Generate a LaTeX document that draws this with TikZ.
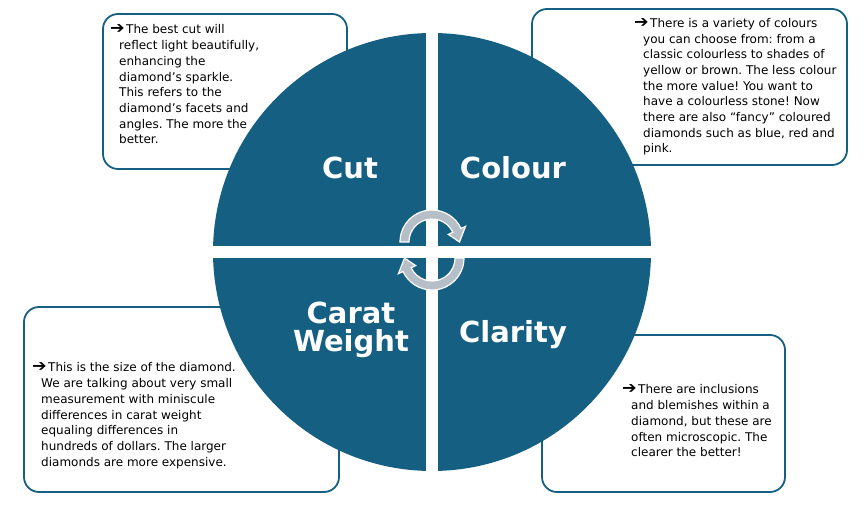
\documentclass[tikz,border=0pt]{standalone}
\usepackage{fontspec}
\setmainfont{DejaVu Sans}
\usepackage{tikz}
\usetikzlibrary{calc,positioning}
\frenchspacing

\definecolor{Gem}{HTML}{156082}
\definecolor{TurnGrey}{RGB}{182,190,200}
\newcommand\bulletarrow{\hspace*{-9pt}\makebox[16pt][l]{\scalebox{1.45}[1.35]{\bfseries ➔}}}

\begin{document}
\begin{tikzpicture}[x = 1pt, y = 1pt]
  \tikzset{panel/.style = {shape = rectangle, rounded corners = 15pt, draw = Gem, line width = 1.8pt, fill = white}}
  \tikzset{heading/.style = {text = white, inner sep = 0pt, align = center, font = \bfseries\fontsize{29}{28}\selectfont}}
  \tikzset{blurb/.style = {anchor = north west, inner sep = 0pt, align = left, font = \fontsize{12}{15.7}\selectfont}}
  \tikzset{turn/.style = {fill = TurnGrey, draw = white, line width = 1.2pt}}

  \useasboundingbox (0,0) rectangle (864,504);

  % the four boxes, behind the disc
  \node[panel, minimum width = 244pt, minimum height = 155pt] (CutBox) at (225,412.5) {};
  \node[panel, minimum width = 315pt, minimum height = 156pt] (ColourBox) at (689.5,417) {};
  \node[panel, minimum width = 315pt, minimum height = 185pt] (CaratBox) at (181.5,104.5) {};
  \node[panel, minimum width = 243pt, minimum height = 157pt] (ClarityBox) at (663.5,90.5) {};

  % disc cut in four
  \fill[Gem] (432,252) circle (219pt);
  \fill[white] (426,30) rectangle (438,474);
  \fill[white] (210,246) rectangle (654,258);

  \node[heading, anchor = base] (Cut) at (350,325) {Cut};
  \node[heading, anchor = base] (Colour) at (513,325) {Colour};
  \node[heading] (Carat) at (351,174) {Carat\\Weight};
  \node[heading, anchor = base] (Clarity) at (513,162) {Clarity};

  % cycle arrows
  \foreach \turn in {0,180}
    \filldraw[turn, rotate around = {\turn:(432,254)}, shift = {(432,262)}]
      (180:32) arc[start angle = 180, end angle = 25, radius = 32]
      -- (25:37) -- (0:27.5) -- (25:18)
      -- (25:23) arc[start angle = 25, end angle = 180, radius = 23] -- cycle;

  \node[blurb] (CutText) at (119,479.4) {\bulletarrow The best cut will\\
    reflect light beautifully,\\
    enhancing the\\
    diamond’s sparkle.\\
    This refers to the\\
    diamond’s facets and\\
    angles. The more the\\
    better.};
  \node[blurb] (ColourText) at (643,486) {\bulletarrow There is a variety of colours\\
    you can choose from: from a\\
    classic colourless to shades of\\
    yellow or brown. The less colour\\
    the more value! You want to\\
    have a colourless stone! Now\\
    there are also “fancy” coloured\\
    diamonds such as blue, red and\\
    pink.};
  \node[blurb] (CaratText) at (41,141.4) {\bulletarrow This is the size of the diamond.\\
    We are talking about very small\\
    measurement with miniscule\\
    differences in carat weight\\
    equaling differences in\\
    hundreds of dollars. The larger\\
    diamonds are more expensive.};
  \node[blurb] (ClarityText) at (631,119.4) {\bulletarrow There are inclusions\\
    and blemishes within a\\
    diamond, but these are\\
    often microscopic. The\\
    clearer the better!};

\end{tikzpicture}
\end{document}
